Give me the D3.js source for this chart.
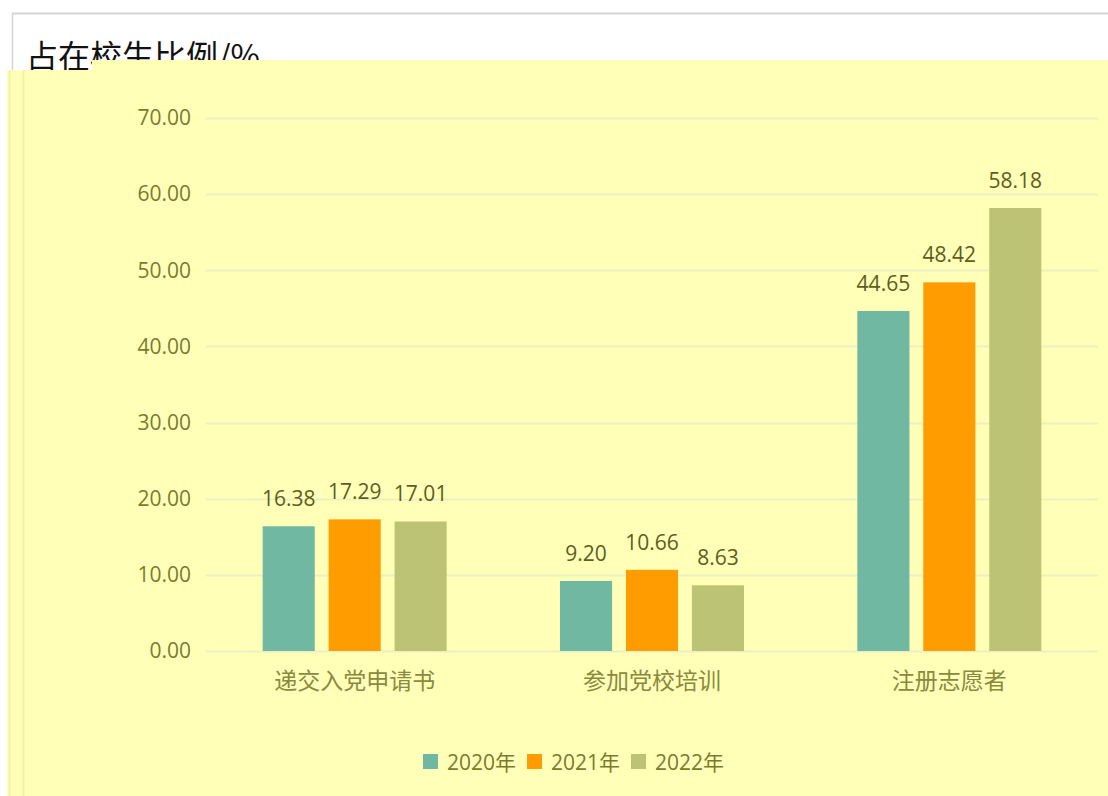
<!DOCTYPE html>
<html><head><meta charset="utf-8">
<script src="https://cdn.jsdelivr.net/npm/d3@7/dist/d3.min.js"></script>
<style>body{margin:0;background:#fff;} svg{display:block;}</style>
</head><body>
<script>
const categories = ["递交入党申请书", "参加党校培训", "注册志愿者"];
const seriesNames = ["2020年", "2021年", "2022年"];
const values2020 = [16.38, 9.20, 44.65];
const values2021 = [17.29, 10.66, 48.42];
const values2022 = [17.01, 8.63, 58.18];
const yTicks = [0, 10, 20, 30, 40, 50, 60, 70];
const colors = ["#71B8A3", "#FF9C00", "#BDC374"];
const title = "占在校生比例/%";

const W = 1108, H = 796;
const svg = d3.select("body").append("svg").attr("width", W).attr("height", H);
const font = "'Open Sans','Noto Sans CJK SC',sans-serif";

// frame
svg.append("line").attr("x1", 12).attr("x2", W).attr("y1", 13.5).attr("y2", 13.5).attr("stroke", "#d4d4d4").attr("stroke-width", 2);
svg.append("line").attr("x1", 12.5).attr("x2", 12.5).attr("y1", 13).attr("y2", 72).attr("stroke", "#d4d4d4").attr("stroke-width", 1.5);
svg.append("text").attr("x", 26).attr("y", 68).attr("font-family", "'Noto Sans CJK SC',sans-serif")
  .attr("font-size", 32).attr("fill", "#111").text(title);

// yellow panel
svg.append("rect").attr("x", 7).attr("y", 70).attr("width", W - 7).attr("height", H - 70).attr("fill", "#FFFFB8");
svg.append("rect").attr("x", 92).attr("y", 60).attr("width", W - 92).attr("height", 12).attr("fill", "#FFFFB8");
svg.append("line").attr("x1", 9.5).attr("x2", 9.5).attr("y1", 70).attr("y2", H).attr("stroke", "#EEF2B0").attr("stroke-width", 2);
svg.append("line").attr("x1", 23.5).attr("x2", 23.5).attr("y1", 70).attr("y2", H).attr("stroke", "#EEF2B0").attr("stroke-width", 2);

const x0 = d3.scaleBand().domain(categories).range([206, 1098]).paddingInner(0).paddingOuter(0);
const x1 = d3.scaleBand().domain(seriesNames).range([0, 184]).paddingInner(0.21);
const y = d3.scaleLinear().domain([0, 70]).range([651, 118]);

// grid
svg.append("g").selectAll("line").data(yTicks).join("line")
  .attr("x1", 206).attr("x2", 1098).attr("y1", d => Math.round(y(d)) + 0.5).attr("y2", d => Math.round(y(d)) + 0.5)
  .attr("stroke", "#ECEFC0").attr("stroke-width", 2);

// y axis labels
const yAxis = d3.axisLeft(y).tickValues(yTicks).tickFormat(d3.format(".2f")).tickSize(0).tickPadding(0);
const ya = svg.append("g").attr("transform", "translate(191,0)").call(yAxis);
ya.select(".domain").remove();
ya.selectAll("text").attr("font-family", font).attr("font-size", 21).attr("fill", "#7B7B2E");

const data = [values2020, values2021, values2022];
const groups = svg.append("g").selectAll("g").data(categories).join("g")
  .attr("transform", c => `translate(${x0(c) + (x0.bandwidth() - 184) / 2},0)`);
groups.each(function(c, ci) {
  const g = d3.select(this);
  seriesNames.forEach((s, si) => {
    const v = data[si][ci];
    g.append("rect").attr("x", x1(s)).attr("width", x1.bandwidth())
      .attr("y", y(v)).attr("height", y(0) - y(v)).attr("fill", colors[si]);
    g.append("text").attr("x", x1(s) + x1.bandwidth() / 2).attr("y", y(v) - 20)
      .attr("text-anchor", "middle").attr("font-family", font).attr("font-size", 21)
      .attr("fill", "#5E5E1C").text(v.toFixed(2));
  });
});

// x axis labels
const xAxis = d3.axisBottom(x0).tickSize(0).tickPadding(0);
const xa = svg.append("g").attr("transform", "translate(0,673)").call(xAxis);
xa.select(".domain").remove();
xa.selectAll("text").attr("font-family", "'Noto Sans CJK SC',sans-serif").attr("font-size", 23).attr("fill", "#8A8A3E");

// legend
const legendX = [423, 527, 631];
const lg = svg.append("g").selectAll("g").data(seriesNames).join("g")
  .attr("transform", (d, i) => `translate(${legendX[i]},754)`);
lg.append("rect").attr("width", 15).attr("height", 15).attr("fill", (d, i) => colors[i]);
lg.append("text").attr("x", 24).attr("y", 16).attr("font-family", font).attr("font-size", 21)
  .attr("fill", "#7B7B2E").text(d => d);
</script>
</body></html>
